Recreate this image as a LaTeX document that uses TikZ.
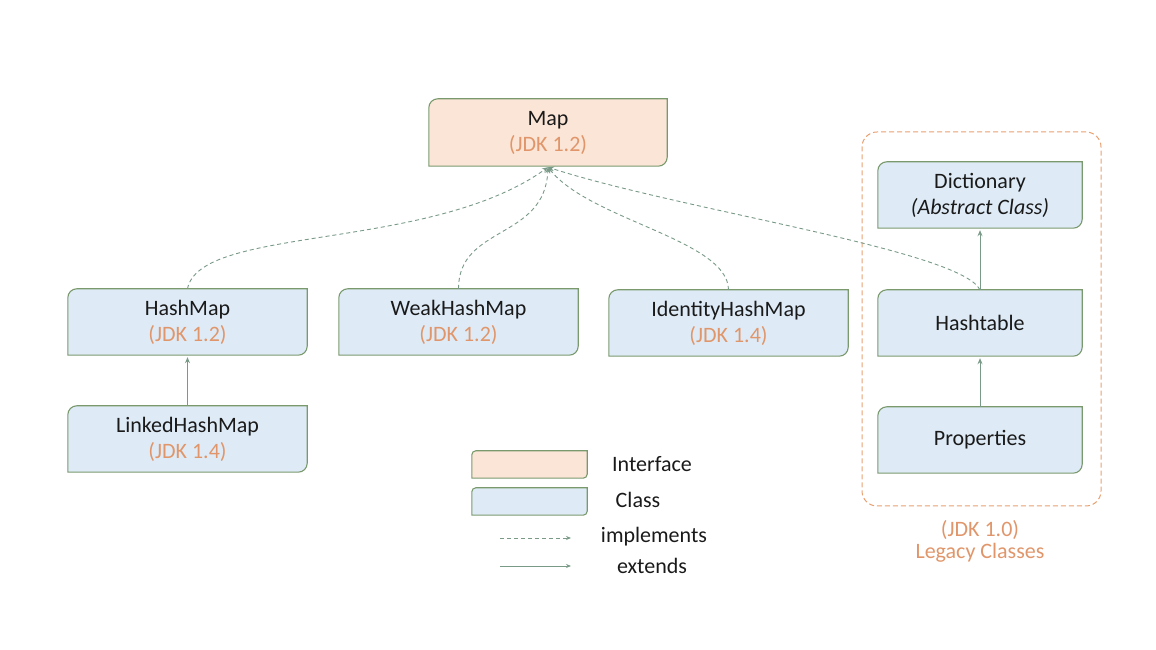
\documentclass[tikz,border=0pt]{standalone}
\usepackage{fontspec}
\setmainfont{Carlito}
\usetikzlibrary{arrows.meta,backgrounds}
\definecolor{ifill}{HTML}{FBE5D6}
\definecolor{cfill}{HTML}{DEEBF7}
\definecolor{bordc}{HTML}{7A9A6E}
\definecolor{connc}{HTML}{7A9A88}
\definecolor{jdkc}{HTML}{E0966A}
\definecolor{legc}{HTML}{E8A070}
\definecolor{txtc}{HTML}{1A1A1A}
\newcommand\jshape[3]{\path[draw=bordc,fill=#2,line width=1.1pt]
  ([xshift=#3]#1.north west) -- (#1.north east) -- ([yshift=#3]#1.south east)
  arc[start angle=0,end angle=-90,radius=#3] -- (#1.south west) -- ([yshift=-#3]#1.north west)
  arc[start angle=180,end angle=90,radius=#3] -- cycle;}
\newcommand\jdk[1]{{\color{jdkc}(JDK #1)}}
\tikzset{
  jnode/.style={inner sep=0pt,minimum width=239pt,minimum height=66pt,align=center,
    text=txtc,font=\fontsize{22}{26}\selectfont},
  lnode/.style={jnode,minimum width=204pt},
  legbox/.style={inner sep=0pt,minimum width=115pt,minimum height=27pt},
  legtxt/.style={inner sep=0pt,text=txtc,font=\fontsize{22}{26}\selectfont},
  impl/.style={draw=connc,line width=0.9pt,dash pattern=on 4pt off 3pt,-{Stealth[length=6pt,width=5pt]}},
  ext/.style={draw=connc,line width=0.9pt,-{Stealth[length=6pt,width=5pt]}},
}
\begin{document}
\begin{tikzpicture}[x=1pt,y=1pt]
\useasboundingbox (0,0) rectangle (1156,650);
% nodes
\node[jnode,minimum width=238pt,minimum height=67pt] (map) at (548,517.5) {Map\\\jdk{1.2}};
\node[jnode] (hm) at (187.5,328) {HashMap\\\jdk{1.2}};
\node[jnode] (whm) at (458.5,328) {WeakHashMap\\\jdk{1.2}};
\node[jnode] (ihm) at (728.5,327) {IdentityHashMap\\\jdk{1.4}};
\node[jnode] (lhm) at (187.5,211) {LinkedHashMap\\\jdk{1.4}};
\node[lnode] (dict) at (980,455) {Dictionary\\\textit{(Abstract Class)}};
\node[lnode] (ht) at (980,327) {Hashtable};
\node[lnode] (prop) at (980,210) {Properties};
% legacy group
\node[draw=legc,line width=1pt,dash pattern=on 5pt off 3pt,rounded corners=15pt,
  minimum width=239pt,minimum height=374pt,inner sep=0pt] (legacy) at (981.5,331) {};
\node[inner sep=0pt,text=jdkc,align=center,font=\fontsize{22}{22}\selectfont] (leglab) at (980,109)
  {(JDK 1.0)\\Legacy Classes};
% legend
\node[legbox] (lif) at (529.5,185.5) {};
\node[legbox] (lcl) at (529.5,148.5) {};
\node[legtxt] (tif) at (652,186) {Interface};
\node[legtxt] (tcl) at (638,150) {Class};
\node[legtxt] (timp) at (654,113) {implements};
\node[legtxt] (text) at (652,84) {extends};
\coordinate (i1) at (500,112);
\coordinate (i2) at (571,112);
\coordinate (e1) at (500,84);
\coordinate (e2) at (571,84);
\draw[impl,-{Stealth[length=5pt,width=4pt]}] (i1) -- (i2);
\draw[ext,-{Stealth[length=5pt,width=4pt]}] (e1) -- (e2);
% shapes
\begin{scope}[on background layer]
\jshape{map}{ifill}{9pt}
\jshape{hm}{cfill}{9pt}
\jshape{whm}{cfill}{9pt}
\jshape{ihm}{cfill}{9pt}
\jshape{lhm}{cfill}{9pt}
\jshape{dict}{cfill}{9pt}
\jshape{ht}{cfill}{9pt}
\jshape{prop}{cfill}{9pt}
\jshape{lif}{ifill}{4pt}
\jshape{lcl}{cfill}{4pt}
\end{scope}
% connectors
\draw[impl] (hm.north) .. controls (200,425) and (430,398) .. ([yshift=-1pt]map.south);
\draw[impl] (whm.north) .. controls (458.5,425) and (545,410) .. ([yshift=-1pt]map.south);
\draw[impl] (ihm.north) .. controls (728,410) and (590,430) .. ([yshift=-1pt]map.south);
\draw[impl] (ht.north) .. controls (960,400) and (680,440) .. ([yshift=-1pt]map.south);
\draw[ext,shorten >=2pt] (lhm.north) -- (hm.south);
\draw[ext,shorten >=2pt] (ht.north) -- (dict.south);
\draw[ext,shorten >=2pt] (prop.north) -- (ht.south);
\end{tikzpicture}
\end{document}
